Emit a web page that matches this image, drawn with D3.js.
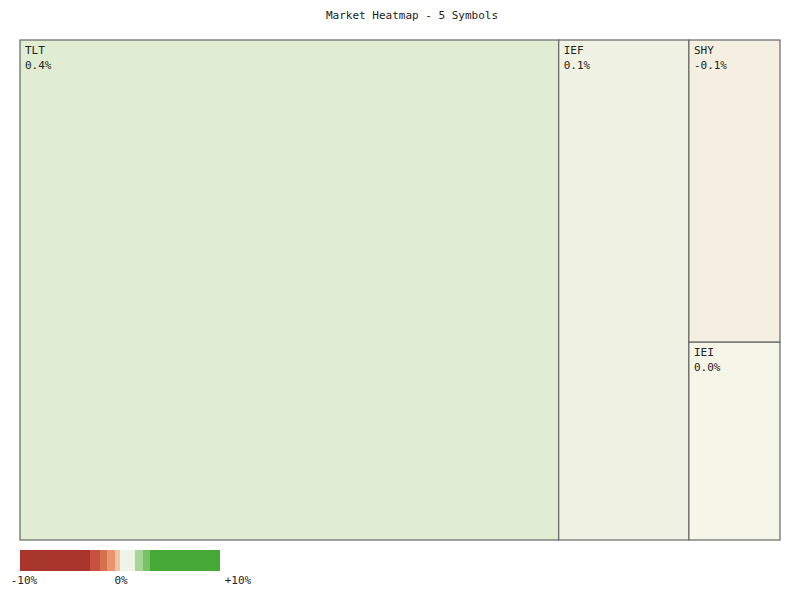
<!DOCTYPE html>
<html><head><meta charset="utf-8">
<script src="https://cdn.jsdelivr.net/npm/d3@7"></script>
<style>body{margin:0;background:#fff}text{font-family:"DejaVu Sans Mono",monospace;font-size:11px;fill:#222}</style>
</head><body>
<script>
// data
var symbols = ["TLT", "IEF", "SHY", "IEI"];
var weights = [269, 65, 27.5, 18];
var changes = [0.4, 0.1, -0.1, 0.0];
var groups = [0, 1, 2, 2]; // column each symbol sits in
var legendStops = [-10, -3, -2, -1.3, -0.5, 0, 1.5, 2.3, 3, 10];
var legendColors = ["#a8362c", "#c85040", "#d67050", "#e8956e", "#f3c4a4", "#eef5e6", "#a8d698", "#78c264", "#45a837"];
var legendTicks = [-10, 0, 10];

var width = 800, height = 600;
var svg = d3.select("body").append("svg").attr("width", width).attr("height", height);

svg.append("text").attr("x", 412).attr("y", 19).attr("text-anchor", "middle").text("Market Heatmap - 5 Symbols");

var color = d3.scaleLinear().domain([-1.5, 0, 1.5]).range(["#e8956e", "#f5f5e8", "#a8d698"]);

var cols = d3.groups(symbols.map(function (s, i) { return {name: s, value: weights[i], change: changes[i], g: groups[i]}; }),
    function (d) { return d.g; });
var root = d3.hierarchy({children: cols.map(function (c) { return {children: c[1]}; })})
    .sum(function (d) { return d.value || 0; });
d3.treemap().size([760, 500]).tile(d3.treemapSliceDice)(root);

var cell = svg.append("g").attr("transform", "translate(20,40)")
    .selectAll("g").data(root.leaves()).join("g")
    .attr("transform", function (d) { return "translate(" + d.x0 + "," + d.y0 + ")"; });
cell.append("rect")
    .attr("width", function (d) { return d.x1 - d.x0; })
    .attr("height", function (d) { return d.y1 - d.y0; })
    .attr("fill", function (d) { return color(d.data.change); })
    .attr("stroke", "#666").attr("stroke-width", 1.2);
cell.append("text").attr("x", 5).attr("y", 14).text(function (d) { return d.data.name; });
cell.append("text").attr("x", 5).attr("y", 29).text(function (d) { return d.data.change.toFixed(1) + "%"; });

// legend
var lx = d3.scaleLinear().domain([-10, 10]).range([20, 220]);
var lg = svg.append("g");
lg.selectAll("rect").data(legendColors).join("rect")
    .attr("x", function (d, i) { return lx(legendStops[i]); })
    .attr("width", function (d, i) { return lx(legendStops[i + 1]) - lx(legendStops[i]); })
    .attr("y", 550).attr("height", 21)
    .attr("fill", function (d) { return d; });
lg.selectAll("text").data(legendTicks).join("text")
    .attr("x", function (d) { return lx(d) + (d > 0 ? 18 : d < 0 ? 4 : 1); }).attr("y", 584).attr("text-anchor", "middle")
    .text(function (d) { return (d > 0 ? "+" : "") + d + "%"; });
</script>
</body></html>
